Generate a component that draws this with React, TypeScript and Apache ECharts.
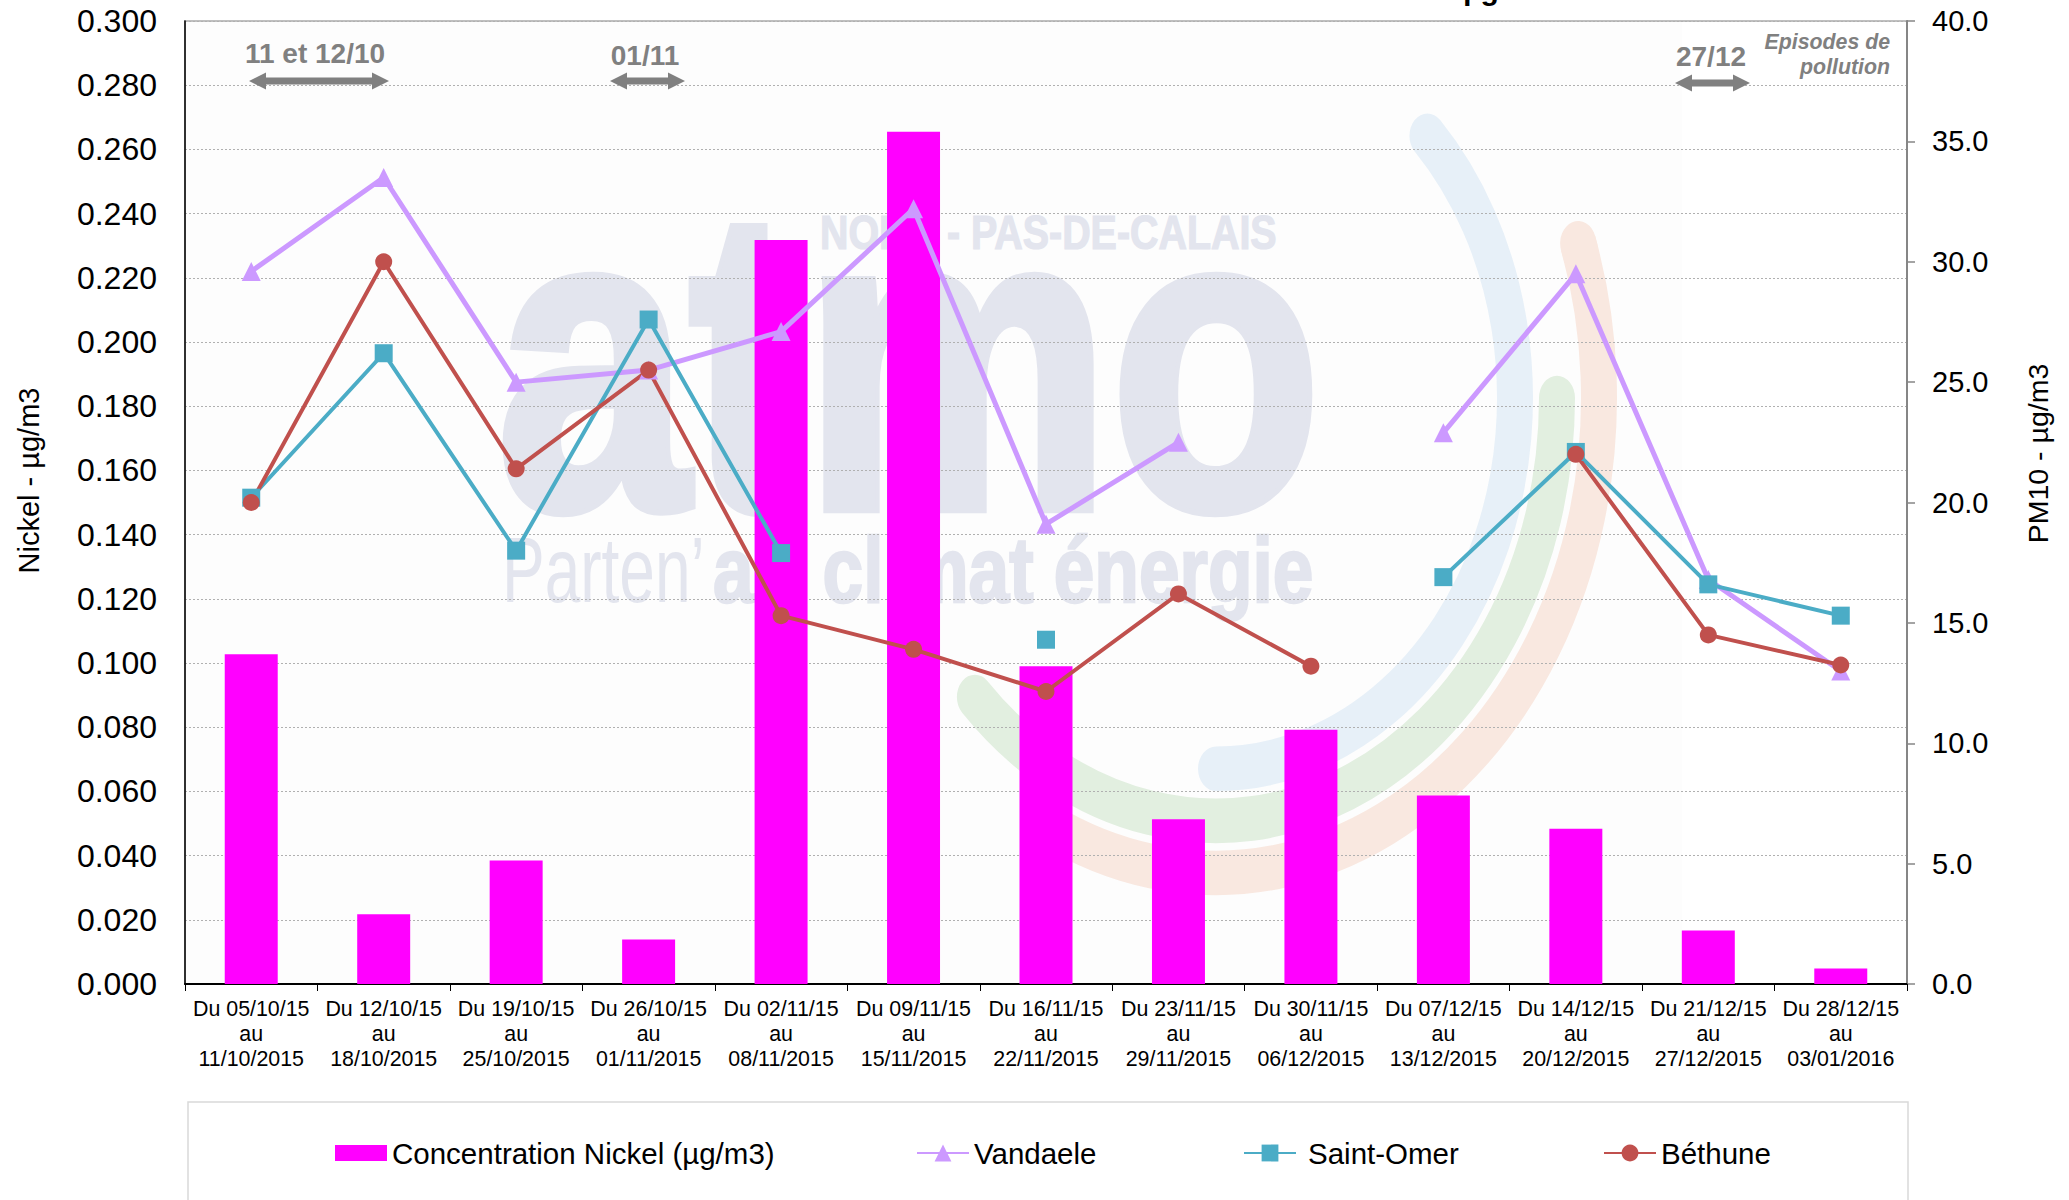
import React, { useEffect, useRef } from "react";
import * as echarts from "echarts";

const categories = [
  "Du 05/10/15\nau\n11/10/2015", "Du 12/10/15\nau\n18/10/2015", "Du 19/10/15\nau\n25/10/2015",
  "Du 26/10/15\nau\n01/11/2015", "Du 02/11/15\nau\n08/11/2015", "Du 09/11/15\nau\n15/11/2015",
  "Du 16/11/15\nau\n22/11/2015", "Du 23/11/15\nau\n29/11/2015", "Du 30/11/15\nau\n06/12/2015",
  "Du 07/12/15\nau\n13/12/2015", "Du 14/12/15\nau\n20/12/2015", "Du 21/12/15\nau\n27/12/2015",
  "Du 28/12/15\nau\n03/01/2016",
];
const nickel = [0.1027, 0.0217, 0.0385, 0.0139, 0.2318, 0.2655, 0.099, 0.0513, 0.0792, 0.0587, 0.0484, 0.0167, 0.0048];
const vandaele = [29.6, 33.5, 25.0, 25.5, 27.1, 32.2, 19.1, 22.5, null, 22.9, 29.5, 16.8, 13.0];
const saintOmer = [20.2, 26.2, 18.0, 27.6, 17.9, null, 14.3, null, null, 16.9, 22.1, 16.6, 15.3];
const bethune = [20.0, 30.0, 21.4, 25.5, 15.3, 13.9, 12.15, 16.2, 13.2, null, 22.0, 14.5, 13.25];

const FONT = "'Liberation Sans', Arial, sans-serif";
const GREY = "#808080";
const WM = "#e3e5ee";

function arrow(x1: number, x2: number, y: number) {
  const t = 3.5, h = 8.5, l = 17;
  return {
    type: "polygon", z: 10, silent: true,
    shape: { points: [[x1, y], [x1 + l, y - h], [x1 + l, y - t], [x2 - l, y - t], [x2 - l, y - h], [x2, y], [x2 - l, y + h], [x2 - l, y + t], [x1 + l, y + t], [x1 + l, y + h]] },
    style: { fill: GREY },
  };
}
function note(text: string, x: number, y: number, extra: any = {}) {
  return {
    type: "text", z: 10, silent: true, x, y,
    style: { text, fontFamily: FONT, fontWeight: "bold", fontSize: 28, fill: GREY, align: "center", verticalAlign: "middle", ...extra },
  };
}
function wm(text: string, x: number, y: number, fontSize: number, scaleY: number, fontWeight = "bold", stroke = 0) {
  return {
    type: "text", z: -1, silent: true, x, y, scaleY,
    style: { text, fontFamily: FONT, fontWeight, fontSize, fill: WM, align: "left", verticalAlign: "middle", stroke: stroke ? WM : undefined, lineWidth: stroke },
  };
}
function arc(r: number, a0: number, a1: number, color: string, cap: string) {
  return {
    type: "arc", z: -1, silent: true,
    shape: { cx: 0, cy: 0, r, startAngle: (a0 * Math.PI) / 180, endAngle: (a1 * Math.PI) / 180, clockwise: true },
    style: { stroke: color, lineWidth: 36, fill: "none", lineCap: cap },
  };
}

export default function App() {
  const ref = useRef<HTMLDivElement>(null);
  useEffect(() => {
    document.body.style.margin = "0";
    const chart = echarts.init(ref.current!, undefined, { renderer: "svg" });
    const legendBase = { top: 1138, padding: 0, itemWidth: 52, itemHeight: 21, textStyle: { fontFamily: FONT, fontSize: 29.5, color: "#000" } };
    chart.setOption({
      animation: false,
      backgroundColor: "#ffffff",
      legend: [
        { ...legendBase, left: 335, itemHeight: 16, data: [{ name: "Concentration Nickel (µg/m3)", icon: "rect" }] },
        { ...legendBase, left: 916, data: ["Vandaele"] },
        { ...legendBase, left: 1243, data: ["Saint-Omer"], textStyle: { ...legendBase.textStyle, padding: [0, 0, 0, 7] } },
        { ...legendBase, left: 1603, data: ["Béthune"] },
      ],
      grid: { left: 185, top: 21, width: 1722, height: 963, show: true, borderColor: "#bfbfbf", borderWidth: 2, backgroundColor: "transparent" },
      xAxis: {
        type: "category", data: categories,
        axisLine: { lineStyle: { color: "#000", width: 2 } },
        axisTick: { show: true, length: 7, lineStyle: { color: "#000", width: 1 } },
        axisLabel: { interval: 0, fontFamily: FONT, fontSize: 21.4, color: "#000", lineHeight: 25, margin: 12 },
      },
      yAxis: [
        {
          type: "value", min: 0, max: 0.3, interval: 0.02, position: "left",
          name: "Nickel - µg/m3", nameLocation: "middle", nameGap: 142, nameRotate: 90,
          nameTextStyle: { fontFamily: FONT, fontSize: 29, color: "#000", padding: [0, 0, 0, 44] },
          axisLine: { show: true, lineStyle: { color: "#000", width: 1.5 } },
          axisTick: { show: false },
          axisLabel: { fontFamily: FONT, fontSize: 32, color: "#000", margin: 28, formatter: (v: number) => v.toFixed(3) },
          splitLine: { show: true, lineStyle: { color: "#b0b0b0", type: [2, 2], width: 1.2 } },
        },
        {
          type: "value", min: 0, max: 40, interval: 5, position: "right",
          name: "PM10 - µg/m3", nameLocation: "middle", nameGap: 116, nameRotate: 90,
          nameTextStyle: { fontFamily: FONT, fontSize: 28.5, color: "#000", padding: [0, 0, 0, 98] },
          axisLine: { show: true, lineStyle: { color: "#868686", width: 2 } },
          axisTick: { show: true, length: 8, lineStyle: { color: "#868686", width: 1.5 } },
          axisLabel: { fontFamily: FONT, fontSize: 29, color: "#000", margin: 25, formatter: (v: number) => v.toFixed(1) },
          splitLine: { show: false },
        },
      ],
      series: [
        { name: "Concentration Nickel (µg/m3)", type: "bar", data: nickel, barWidth: "40%", itemStyle: { color: "#ff00ff" } },
        { name: "Vandaele", type: "line", yAxisIndex: 1, data: vandaele, symbol: "triangle", symbolSize: 19, showSymbol: true, lineStyle: { color: "#cc99ff", width: 5 }, itemStyle: { color: "#cc99ff" } },
        { name: "Saint-Omer", type: "line", yAxisIndex: 1, data: saintOmer, symbol: "rect", symbolSize: 18, showSymbol: true, lineStyle: { color: "#4bacc6", width: 4 }, itemStyle: { color: "#4bacc6" } },
        { name: "Béthune", type: "line", yAxisIndex: 1, data: bethune, symbol: "circle", symbolSize: 17, showSymbol: true, lineStyle: { color: "#c0504d", width: 4 }, itemStyle: { color: "#c0504d" } },
      ],
      graphic: {
        elements: [
          { type: "rect", z: -2, silent: true, shape: { x: 185, y: 21, width: 1497, height: 963 }, style: { fill: "#fdfdfd" } },
          {
            type: "group", x: 1216, y: 398, scaleY: 1.24, silent: true,
            children: [
              arc(383, -19, 114, "#f9e8e0", "butt"),
              arc(383, -19, -18, "#f9e8e0", "round"),
              arc(341, 0, 135, "#e2efe0", "round"),
              arc(299, -45, 90, "#e7f0f8", "round"),
            ],
          },
          wm("atmo", 497, 359, 345, 1.24, "bold", 9),
          wm("NORD - PAS-DE-CALAIS", 820, 232, 39.4, 1.22, "bold", 1),
          wm("Parten’", 502, 570, 64, 1.44, "normal"),
          wm("air climat énergie", 713, 570, 73, 1.27, "bold", 2),
          note("11 et 12/10", 315, 53),
          note("01/11", 645, 55),
          note("27/12", 1711, 56),
          arrow(249, 389, 81),
          arrow(610, 685, 81),
          arrow(1675, 1750, 83),
          note("Episodes de\npollution", 1890, 54, { fontSize: 21.3, fontStyle: "italic", align: "right", lineHeight: 25 }),
          { type: "text", silent: true, x: 1481, y: -11, style: { text: "µg", fontFamily: FONT, fontWeight: "bold", fontSize: 30, fill: "#000", align: "center", verticalAlign: "middle" } },
          { type: "rect", silent: true, shape: { x: 188, y: 1102, width: 1720, height: 200 }, style: { fill: "none", stroke: "#d9d9d9", lineWidth: 1.5 } },
        ],
      },
    });
    return () => chart.dispose();
  }, []);
  return <div ref={ref} style={{ position: "absolute", left: 0, top: 0, width: 2069, height: 1200 }} />;
}
